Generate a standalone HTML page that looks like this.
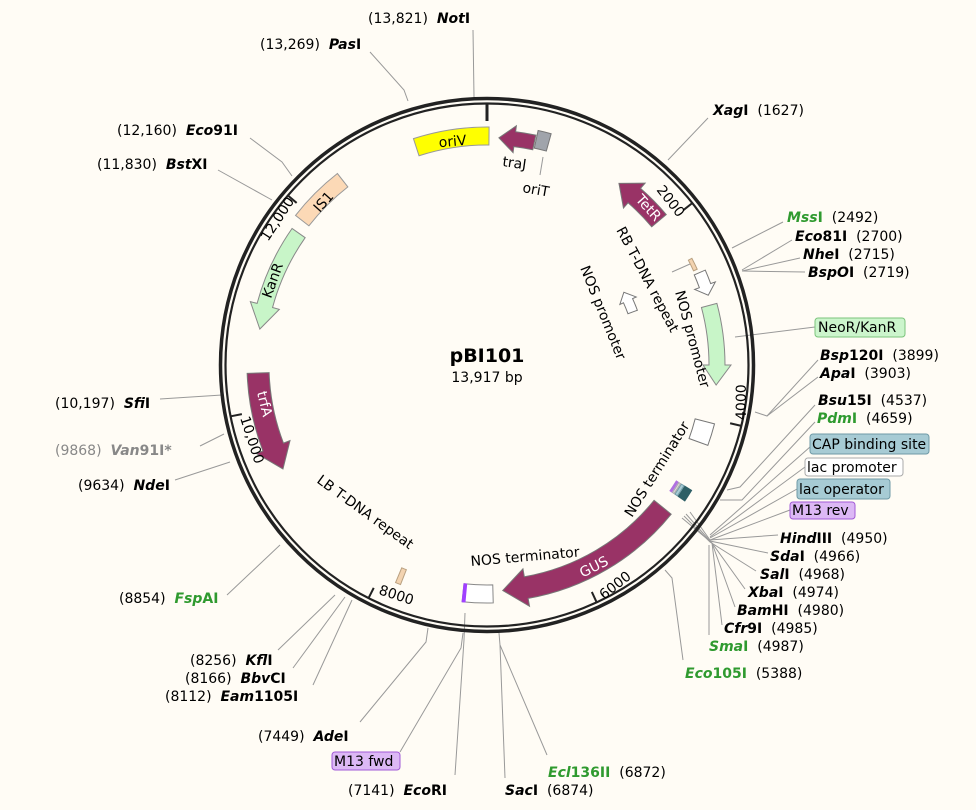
<!DOCTYPE html>
<html><head><meta charset="utf-8">
<style>
html,body{margin:0;padding:0;background:#fffcf5;}
svg{display:block;font-family:"DejaVu Sans","Liberation Sans",sans-serif;font-size:14px;}
text{white-space:pre;}
.e{font-weight:bold;font-style:italic;}
.b{font-weight:bold;}
.g{fill:#2f9a2f;}
.ln{stroke:#999;stroke-width:1;fill:none;}
</style></head><body>
<svg id="s" width="976" height="810" viewBox="0 0 976 810" xmlns="http://www.w3.org/2000/svg" xml:space="preserve">
<rect width="976" height="810" fill="#fffcf5"/>
<g id="lines">
<polyline class="ln" points="473,30 474,97"/>
<polyline class="ln" points="370,52 404,90 408,101"/>
<polyline class="ln" points="708,118 668,160"/>
<polyline class="ln" points="250,138 282,162 292,176"/>
<polyline class="ln" points="218,170 272,200"/>
<polyline class="ln" points="783,222 732,248"/>
<polyline class="ln" points="792,240 742,270"/>
<polyline class="ln" points="800,258 742,271"/>
<polyline class="ln" points="805,272 742,271"/>
<polyline class="ln" points="815,327 735,337"/>
<polyline class="ln" points="818,360 767,416 755,412"/>
<polyline class="ln" points="818,377 767,416"/>
<polyline class="ln" points="815,405 740,487 727,490"/>
<polyline class="ln" points="815,422 742,500 720,500"/>
<polyline class="ln" points="810,447 710,535"/>
<polyline class="ln" points="805,467 710,537"/>
<polyline class="ln" points="797,489 710,538"/>
<polyline class="ln" points="790,510 710,540"/>
<polyline class="ln" points="778,535 710,540 690,512"/>
<polyline class="ln" points="768,553 710,541 686,514"/>
<polyline class="ln" points="756,571 710,542 684,516"/>
<polyline class="ln" points="745,589 712,543 682,518"/>
<polyline class="ln" points="735,607 712,543"/>
<polyline class="ln" points="722,625 712,543"/>
<polyline class="ln" points="709,635 709,545"/>
<polyline class="ln" points="683,660 672,578 665,570"/>
<polyline class="ln" points="547,755 500,645 499,633"/>
<polyline class="ln" points="505,778 500,645"/>
<polyline class="ln" points="455,775 464,640 465,613"/>
<polyline class="ln" points="400,752 461,648 463,633"/>
<polyline class="ln" points="360,722 426,642 428,628"/>
<polyline class="ln" points="278,650 335,595"/>
<polyline class="ln" points="293,668 345,597"/>
<polyline class="ln" points="313,685 352,600"/>
<polyline class="ln" points="227,595 280,545"/>
<polyline class="ln" points="175,480 230,462"/>
<polyline class="ln" points="200,446 224,434"/>
<polyline class="ln" points="160,399 222,395"/>
<polyline class="ln" points="672,272 690,264"/>
<polyline class="ln" points="543,157 540,175"/>
</g>
<g id="feat"></g>
<circle cx="487" cy="365" r="266.5" fill="none" stroke="#222" stroke-width="3.5"/>
<circle cx="487" cy="365" r="261.5" fill="none" stroke="#222" stroke-width="2.2"/>
<g id="ticks"></g>

<text x="487" y="362" text-anchor="middle" font-size="19" class="b">pBI101</text>
<text x="487" y="382" text-anchor="middle" font-size="14">13,917 bp</text>

<text transform="translate(656,190) rotate(52)">2000</text>
<text transform="translate(746,420) rotate(-90)">4000</text>
<text transform="translate(604,600) rotate(-38)">6000</text>
<text transform="translate(378,594) rotate(18)">8000</text>
<text transform="translate(240,418) rotate(72)">10,000</text>
<text transform="translate(268,242) rotate(-57)">12,000</text>

<text transform="translate(453,146) rotate(-5)" text-anchor="middle">oriV</text>
<text transform="translate(502,166) rotate(8)">traJ</text>
<text transform="translate(522,192) rotate(10)">oriT</text>
<text transform="translate(645,211) rotate(48)" text-anchor="middle" fill="#fff">TetR</text>
<text transform="translate(327,205) rotate(-48)" text-anchor="middle">IS1</text>
<text transform="translate(277,282) rotate(-70)" text-anchor="middle">KanR</text>
<text transform="translate(260,405) rotate(76)" text-anchor="middle" fill="#fff">trfA</text>
<text transform="translate(596,571) rotate(-27)" text-anchor="middle" fill="#fff">GUS</text>
<text transform="translate(616,230) rotate(62)">RB T-DNA repeat</text>
<text transform="translate(675,292) rotate(75)">NOS promoter</text>
<text transform="translate(580,268) rotate(68)">NOS promoter</text>
<text transform="translate(632,518) rotate(-58)">NOS terminator</text>
<text transform="translate(316,482) rotate(36)">LB T-DNA repeat</text>
<text transform="translate(471,566) rotate(-5)">NOS terminator</text>

<text x="368" y="23">(13,821)  <tspan class="e">Not</tspan><tspan class="b">I</tspan></text>
<text x="260" y="49">(13,269)  <tspan class="e">Pas</tspan><tspan class="b">I</tspan></text>
<text x="713" y="115"><tspan class="e">Xag</tspan><tspan class="b">I</tspan>  (1627)</text>
<text x="117" y="135">(12,160)  <tspan class="e">Eco</tspan><tspan class="b">91I</tspan></text>
<text x="97" y="169">(11,830)  <tspan class="e">Bst</tspan><tspan class="b">XI</tspan></text>
<text x="787" y="222"><tspan class="e g">Mss</tspan><tspan class="b g">I</tspan>  (2492)</text>
<text x="795" y="241"><tspan class="e">Eco</tspan><tspan class="b">81I</tspan>  (2700)</text>
<text x="803" y="259"><tspan class="e">Nhe</tspan><tspan class="b">I</tspan>  (2715)</text>
<text x="808" y="277"><tspan class="e">BspO</tspan><tspan class="b">I</tspan>  (2719)</text>
<rect x="815" y="318" width="90" height="19" rx="3" fill="#ccf5cc" stroke="#7bc47b"/>
<text x="818" y="332">NeoR/KanR</text>
<text x="820" y="360"><tspan class="e">Bsp</tspan><tspan class="b">120I</tspan>  (3899)</text>
<text x="820" y="378"><tspan class="e">Apa</tspan><tspan class="b">I</tspan>  (3903)</text>
<text x="818" y="405"><tspan class="e">Bsu</tspan><tspan class="b">15I</tspan>  (4537)</text>
<text x="817" y="423"><tspan class="e g">Pdm</tspan><tspan class="b g">I</tspan>  (4659)</text>
<rect x="810" y="434" width="119" height="20" rx="3" fill="#a7cbd4" stroke="#6f9aa6"/>
<text x="812" y="449">CAP binding site</text>
<rect x="805" y="458" width="98" height="18" rx="3" fill="#fff" stroke="#aaa"/>
<text x="807" y="472">lac promoter</text>
<rect x="797" y="479" width="93" height="20" rx="3" fill="#a7cbd4" stroke="#6f9aa6"/>
<text x="799" y="494">lac operator</text>
<rect x="790" y="502" width="65" height="17" rx="3" fill="#dcb8f5" stroke="#a25ad6"/>
<text x="792" y="515">M13 rev</text>
<text x="780" y="543"><tspan class="e">Hind</tspan><tspan class="b">III</tspan>  (4950)</text>
<text x="770" y="561"><tspan class="e">Sda</tspan><tspan class="b">I</tspan>  (4966)</text>
<text x="760" y="579"><tspan class="e">Sal</tspan><tspan class="b">I</tspan>  (4968)</text>
<text x="748" y="597"><tspan class="e">Xba</tspan><tspan class="b">I</tspan>  (4974)</text>
<text x="737" y="615"><tspan class="e">Bam</tspan><tspan class="b">HI</tspan>  (4980)</text>
<text x="724" y="633"><tspan class="e">Cfr</tspan><tspan class="b">9I</tspan>  (4985)</text>
<text x="709" y="651"><tspan class="e g">Sma</tspan><tspan class="b g">I</tspan>  (4987)</text>
<text x="685" y="678"><tspan class="e g">Eco</tspan><tspan class="b g">105I</tspan>  (5388)</text>
<text x="548" y="777"><tspan class="e g">Ecl</tspan><tspan class="b g">136II</tspan>  (6872)</text>
<text x="505" y="795"><tspan class="e">Sac</tspan><tspan class="b">I</tspan>  (6874)</text>
<text x="348" y="795">(7141)  <tspan class="e">Eco</tspan><tspan class="b">RI</tspan></text>
<rect x="332" y="752" width="68" height="18" rx="3" fill="#dcb8f5" stroke="#a25ad6"/>
<text x="334" y="766">M13 fwd</text>
<text x="258" y="741">(7449)  <tspan class="e">Ade</tspan><tspan class="b">I</tspan></text>
<text x="190" y="665">(8256)  <tspan class="e">Kfl</tspan><tspan class="b">I</tspan></text>
<text x="185" y="683">(8166)  <tspan class="e">Bbv</tspan><tspan class="b">CI</tspan></text>
<text x="165" y="701">(8112)  <tspan class="e">Eam</tspan><tspan class="b">1105I</tspan></text>
<text x="119" y="603">(8854)  <tspan class="e g">Fsp</tspan><tspan class="b g">AI</tspan></text>
<text x="78" y="490">(9634)  <tspan class="e">Nde</tspan><tspan class="b">I</tspan></text>
<text x="55" y="455" fill="#888">(9868)  <tspan class="e">Van</tspan><tspan class="b">91I*</tspan></text>
<text x="55" y="408">(10,197)  <tspan class="e">Sfi</tspan><tspan class="b">I</tspan></text>

<script>
(function(){
var cx=487,cy=365,NS="http://www.w3.org/2000/svg";
function P(r,a){a=a*Math.PI/180;return [(cx+r*Math.sin(a)).toFixed(2),(cy-r*Math.cos(a)).toFixed(2)];}
function arc(r,a1,a2){var p=P(r,a2);var large=Math.abs(a2-a1)>180?1:0;var sw=a2>a1?1:0;return "A"+r+","+r+" 0 "+large+","+sw+" "+p[0]+","+p[1];}
function add(g,d,fill,stroke,sw){var e=document.createElementNS(NS,"path");e.setAttribute("d",d);e.setAttribute("fill",fill);e.setAttribute("stroke",stroke||"none");e.setAttribute("stroke-width",sw||1);document.getElementById(g).appendChild(e);}
function box(a1,a2,r1,r2,fill,stroke){var p=P(r2,a1),q=P(r1,a2);var d="M"+p[0]+","+p[1]+arc(r2,a1,a2)+"L"+q[0]+","+q[1]+arc(r1,a2,a1)+"Z";add("feat",d,fill,stroke);}
function arrow(a1,a2,r1,r2,head,w,dir,fill,stroke){
 var rm=(r1+r2)/2,d;
 if(dir>0){var ah=a2-head;var p=P(r2,a1);d="M"+p[0]+","+p[1]+arc(r2,a1,ah);var q=P(r2+w,ah),t=P(rm,a2),u=P(r1-w,ah),v=P(r1,ah);d+="L"+q+"L"+t+"L"+u+"L"+v+arc(r1,ah,a1)+"Z";}
 else{var ah=a1+head;var p=P(r2,a2);d="M"+p[0]+","+p[1]+arc(r2,a2,ah);var q=P(r2+w,ah),t=P(rm,a1),u=P(r1-w,ah),v=P(r1,ah);d+="L"+q+"L"+t+"L"+u+"L"+v+arc(r1,ah,a2)+"Z";}
 add("feat",d,fill,stroke);}
var M="#993366",LG="#c8f5c8";
box(-18,0.5,220,238,"#ffff00","#999");
arrow(3,12,220,235,4,6,-1,M,"#777");
box(12.3,15.5,222,240,"#a0a4ab","#777");
arrow(36,50,215,234,5,7,-1,M,"#777");
box(-52,-38,226,243,"#fcd9b6","#999");
arrow(-81,-55,222,238,6,7,-1,LG,"#888");
arrow(-117,-92,218,240,6,7,-1,M,"#777");
arrow(129,176,215,237,6,8,1,M,"#777");
arrow(75,95,222,238,5,6,1,LG,"#888");
arrow(66.5,72.5,226,238,2.5,5,1,"#fff","#777");
arrow(62,70,150,160,3.5,4,-1,"#fff","#777");
box(62.5,65.5,227,231,"#f3d3b0","#b9a080");
box(104.5,110,215,235,"#fff","#777");
box(121.5,124.5,232,240,"#2d5f66","#2d5f66");
box(121.5,124.5,228,231,"#a7cbd4","#6f9aa6");
box(121.5,124.5,225,227,"#ddd","#aaa");
box(121.5,124.5,222,224,"#b070e0","#b070e0");
box(178.5,186,220,238,"#fff","#888");
box(185.3,186,220,238,"#a040ff","#a040ff");
box(201.5,202.8,220,236,"#f3d3b0","#b9a080");
var t=[[0,244,3],[2000/13917*360,250,2],[4000/13917*360,250,2],[6000/13917*360,250,2],[8000/13917*360,250,2],[10000/13917*360,250,2],[12000/13917*360,250,2]];
t.forEach(function(k){var a=P(k[1],k[0]),b=P(262,k[0]);var e=document.createElementNS(NS,"line");e.setAttribute("x1",a[0]);e.setAttribute("y1",a[1]);e.setAttribute("x2",b[0]);e.setAttribute("y2",b[1]);e.setAttribute("stroke","#222");e.setAttribute("stroke-width",k[2]);document.getElementById("ticks").appendChild(e);});
})();
</script>
</svg>
</body></html>
